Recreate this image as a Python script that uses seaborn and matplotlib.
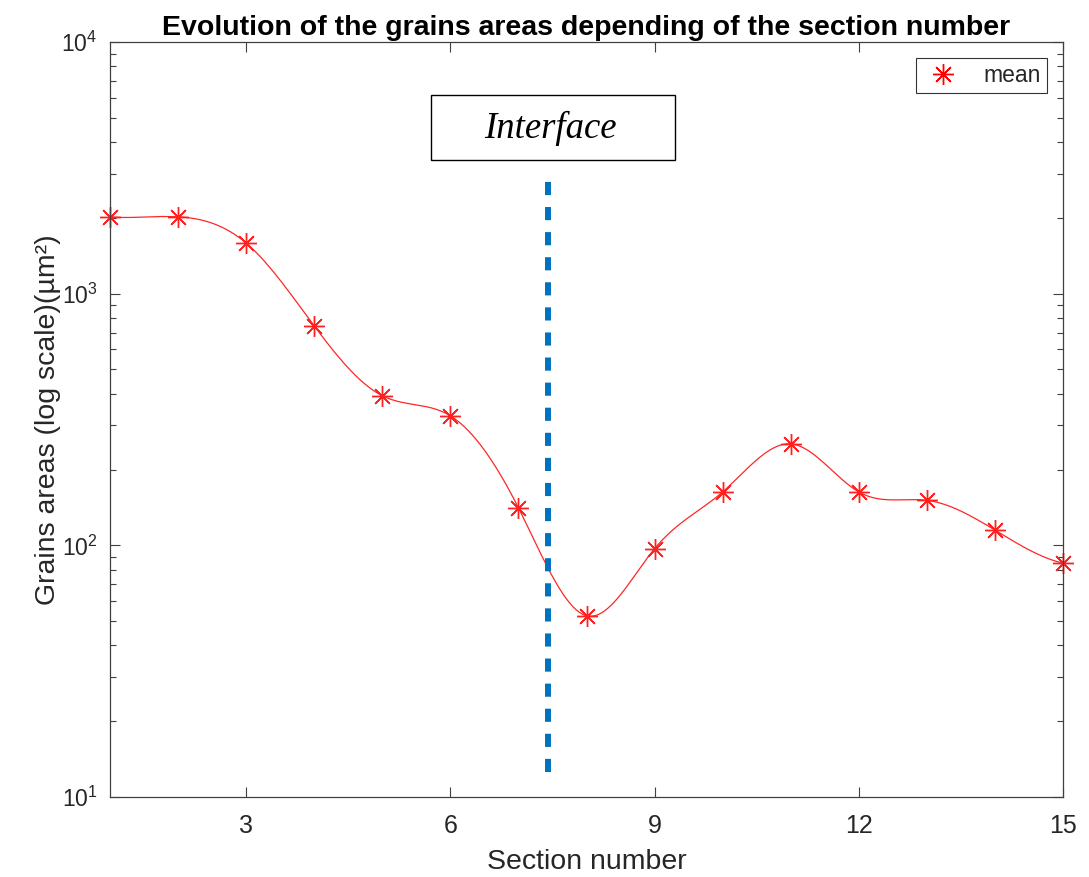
import numpy as np
import pandas as pd
import matplotlib
matplotlib.use("Agg")
import matplotlib.pyplot as plt
import seaborn as sns
from matplotlib.patches import Rectangle
from matplotlib.lines import Line2D

# ---- data ----
sections = [1, 2, 3, 4, 5, 6, 7, 8, 9, 10, 11, 12, 13, 14, 15]
mean_area = [2018, 2020, 1589, 745, 393, 327, 141, 52.5, 97, 163, 253, 163, 151, 115, 85]
x_ticks = [3, 6, 9, 12, 15]
interface_x = [7.44, 7.44]
interface_y = [12.6, 3045]
title = "Evolution of the grains areas depending of the section number"
xlabel = "Section number"
ylabel = "Grains areas (log scale)(µm²)"


def notaknot_spline(x, y, xx):
    x = np.asarray(x, float); y = np.asarray(y, float)
    n = len(x); h = np.diff(x)
    A = np.zeros((n, n)); b = np.zeros(n)
    A[0, 0] = h[1]; A[0, 1] = -(h[0] + h[1]); A[0, 2] = h[0]
    A[-1, -3] = h[-1]; A[-1, -2] = -(h[-2] + h[-1]); A[-1, -1] = h[-2]
    for i in range(1, n - 1):
        A[i, i - 1] = h[i - 1]; A[i, i] = 2 * (h[i - 1] + h[i]); A[i, i + 1] = h[i]
        b[i] = 6 * ((y[i + 1] - y[i]) / h[i] - (y[i] - y[i - 1]) / h[i - 1])
    M = np.linalg.solve(A, b)
    idx = np.clip(np.searchsorted(x, xx) - 1, 0, n - 2)
    hi = h[idx]; x0 = x[idx]; x1 = x[idx + 1]
    return (M[idx] * (x1 - xx) ** 3 / (6 * hi) + M[idx + 1] * (xx - x0) ** 3 / (6 * hi)
            + (y[idx] / hi - M[idx] * hi / 6) * (x1 - xx)
            + (y[idx + 1] / hi - M[idx + 1] * hi / 6) * (xx - x0))


sns.set_style("ticks")
plt.rcParams['font.family'] = ['Liberation Sans', 'DejaVu Sans']
plt.rcParams['mathtext.fontset'] = 'custom'
plt.rcParams['mathtext.rm'] = 'Liberation Sans'

fig = plt.figure(figsize=(10.89, 8.77), dpi=100)
ax = fig.add_axes([110 / 1089, 1 - 797 / 877, 953 / 1089, 755 / 877])

xx = np.linspace(sections[0], sections[-1], 600)
yy = 10 ** notaknot_spline(sections, np.log10(mean_area), xx)
sns.lineplot(x=xx, y=yy, ax=ax, color='#ff0000', estimator=None, legend=False)
curve = ax.lines[-1]
curve.set_linewidth(0.9); curve.set_alpha(0.85)

sns.lineplot(x=sections, y=mean_area, ax=ax, color='#ff0000', estimator=None, legend=False)
pts = ax.lines[-1]
pts.set_linestyle('none'); pts.set_marker((8, 2, 0)); pts.set_markersize(15)
pts.set_markeredgewidth(1.0); pts.set_markeredgecolor('#ff2020'); pts.set_clip_on(False)

sns.lineplot(x=interface_x, y=interface_y, ax=ax, color='#0072BD', estimator=None,
             sort=False, legend=False)
iface = ax.lines[-1]
iface.set_linewidth(4.3); iface.set_dashes((2.2, 2.0)); iface.set_alpha(1.0)
iface.set_dash_capstyle('butt')

ax.set_yscale('log')
ax.set_ylim(10, 1e4)
ax.set_xlim(1, 15)
ax.set_xticks(x_ticks)
ax.set_xticklabels([str(t) for t in x_ticks])

tc = '#262626'
ax.tick_params(which='both', direction='in', top=True, right=True, colors='#404040',
               labelcolor=tc)
ax.tick_params(axis='x', labelsize=18, pad=12)
ax.tick_params(axis='y', labelsize=16.5, pad=9)
ax.tick_params(which='major', length=7, width=0.8)
ax.tick_params(which='minor', length=4, width=0.8)
ax.tick_params(axis='x', which='minor', bottom=False, top=False)
for s in ax.spines.values():
    s.set_color('#404040'); s.set_linewidth(0.9)

ax.set_title(title, fontsize=20.5, fontweight='bold', color='black', pad=5)
ax.set_xlabel(xlabel, fontsize=20.5, color=tc, labelpad=8)
ax.set_ylabel(ylabel, fontsize=20.5, color=tc, labelpad=0)

# Interface annotation box
ax.add_patch(Rectangle(((431 - 110) / 953, (797 - 160) / 755), 244 / 953, 65 / 755,
                       transform=ax.transAxes, fill=False, edgecolor='black', lw=1.0))
ax.text((550 - 110) / 953, (797 - 128) / 755, "Interface", transform=ax.transAxes,
        ha='center', va='center', fontsize=26.5, style='italic',
        family=['Liberation Serif', 'DejaVu Serif'], color='black')

h = Line2D([], [], color='#ff0000', linestyle='', marker=(8, 2, 0), markersize=15,
           markeredgewidth=1.0)
leg = ax.legend([h], ['mean'], loc='upper right', fontsize=16.5, frameon=True,
                fancybox=False, edgecolor='black', borderpad=0.25, handletextpad=0.9,
                handlelength=1.8, borderaxespad=0.7)
leg.get_frame().set_linewidth(0.8)

fig.savefig("out.png", dpi=100)
